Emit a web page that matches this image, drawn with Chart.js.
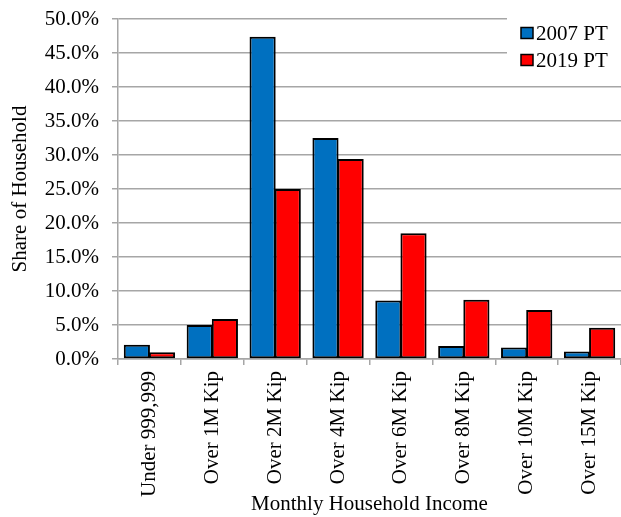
<!DOCTYPE html>
<html>
<head>
<meta charset="utf-8">
<script src="https://cdn.jsdelivr.net/npm/chart.js@4/dist/chart.umd.min.js"></script>
<style>
  html, body { margin: 0; padding: 0; background: #fff; }
  #wrap { width: 621px; height: 517px; }
</style>
</head>
<body>
<div id="wrap"><canvas id="incomeChart" width="621" height="517"></canvas></div>
<script>
const categories = ["Under 999,999", "Over 1M Kip", "Over 2M Kip", "Over 4M Kip",
  "Over 6M Kip", "Over 8M Kip", "Over 10M Kip", "Over 15M Kip"];
const share2007 = [2.1, 5.0, 47.4, 32.5, 8.6, 1.9, 1.7, 1.1];
const share2019 = [1.0, 5.9, 25.0, 29.4, 18.5, 8.7, 7.2, 4.6];
const yTicks = { min: 0, max: 50, step: 5 };

const SERIF = "'Liberation Serif', 'Times New Roman', serif";
const GRID = "#a6a6a6";

// legend sits inside the plot, top right, on a white patch over the grid
const boxLegend = {
  id: "boxLegend",
  afterDraw(chart) {
    const ctx = chart.ctx;
    ctx.save();
    ctx.fillStyle = "#fff";
    ctx.fillRect(507, 8, 114, 66);
    ctx.font = `21px ${SERIF}`;
    ctx.textBaseline = "middle";
    chart.data.datasets.forEach((ds, i) => {
      const cy = 33 + i * 27;
      ctx.fillStyle = ds.backgroundColor;
      ctx.fillRect(521, cy - 5.5, 12, 11);
      ctx.strokeStyle = "#000";
      ctx.lineWidth = 1.5;
      ctx.strokeRect(521, cy - 5.5, 12, 11);
      ctx.fillStyle = "#000";
      ctx.fillText(ds.label, 536, cy + 1);
    });
    ctx.restore();
  }
};

new Chart(document.getElementById("incomeChart"), {
  type: "bar",
  data: {
    labels: categories,
    datasets: [
      { label: "2007 PT", data: share2007, backgroundColor: "#0070c0" },
      { label: "2019 PT", data: share2019, backgroundColor: "#ff0000" }
    ]
  },
  options: {
    responsive: false,
    animation: false,
    devicePixelRatio: 1,
    layout: { padding: { top: 19, right: 0, left: 0, bottom: 0 } },
    datasets: {
      bar: {
        borderColor: "#000", borderWidth: 2, borderSkipped: false,
        categoryPercentage: 0.8, barPercentage: 1.04
      }
    },
    plugins: { legend: { display: false }, tooltip: { enabled: false } },
    scales: {
      x: {
        grid: { display: true, drawOnChartArea: false, drawTicks: true, tickLength: 6, color: GRID, lineWidth: 1.5, offset: true },
        border: { color: GRID, width: 1.5 },
        ticks: { color: "#000", font: { family: SERIF, size: 21 }, minRotation: 90, maxRotation: 90, padding: 6, autoSkip: false },
        title: { display: true, text: "Monthly Household Income", color: "#000", font: { family: SERIF, size: 21 }, padding: { top: 0, bottom: 0 } },
        afterFit: s => { s.height = 158; s.paddingLeft = 0; s.paddingRight = 0; }
      },
      y: {
        min: yTicks.min, max: yTicks.max,
        grid: { color: GRID, lineWidth: 1.5, drawTicks: true, tickLength: 6 },
        border: { color: GRID, width: 1.5 },
        ticks: { stepSize: yTicks.step, color: "#000", font: { family: SERIF, size: 21 }, padding: 13,
          callback: v => v.toFixed(1) + "%" },
        title: { display: true, text: "Share of Household", color: "#000", font: { family: SERIF, size: 21 }, padding: { top: 8, bottom: 0 } },
        afterFit: s => { s.width = 118; s.paddingTop = 0; s.paddingBottom = 0; }
      }
    }
  },
  plugins: [boxLegend]
});
</script>
</body>
</html>
